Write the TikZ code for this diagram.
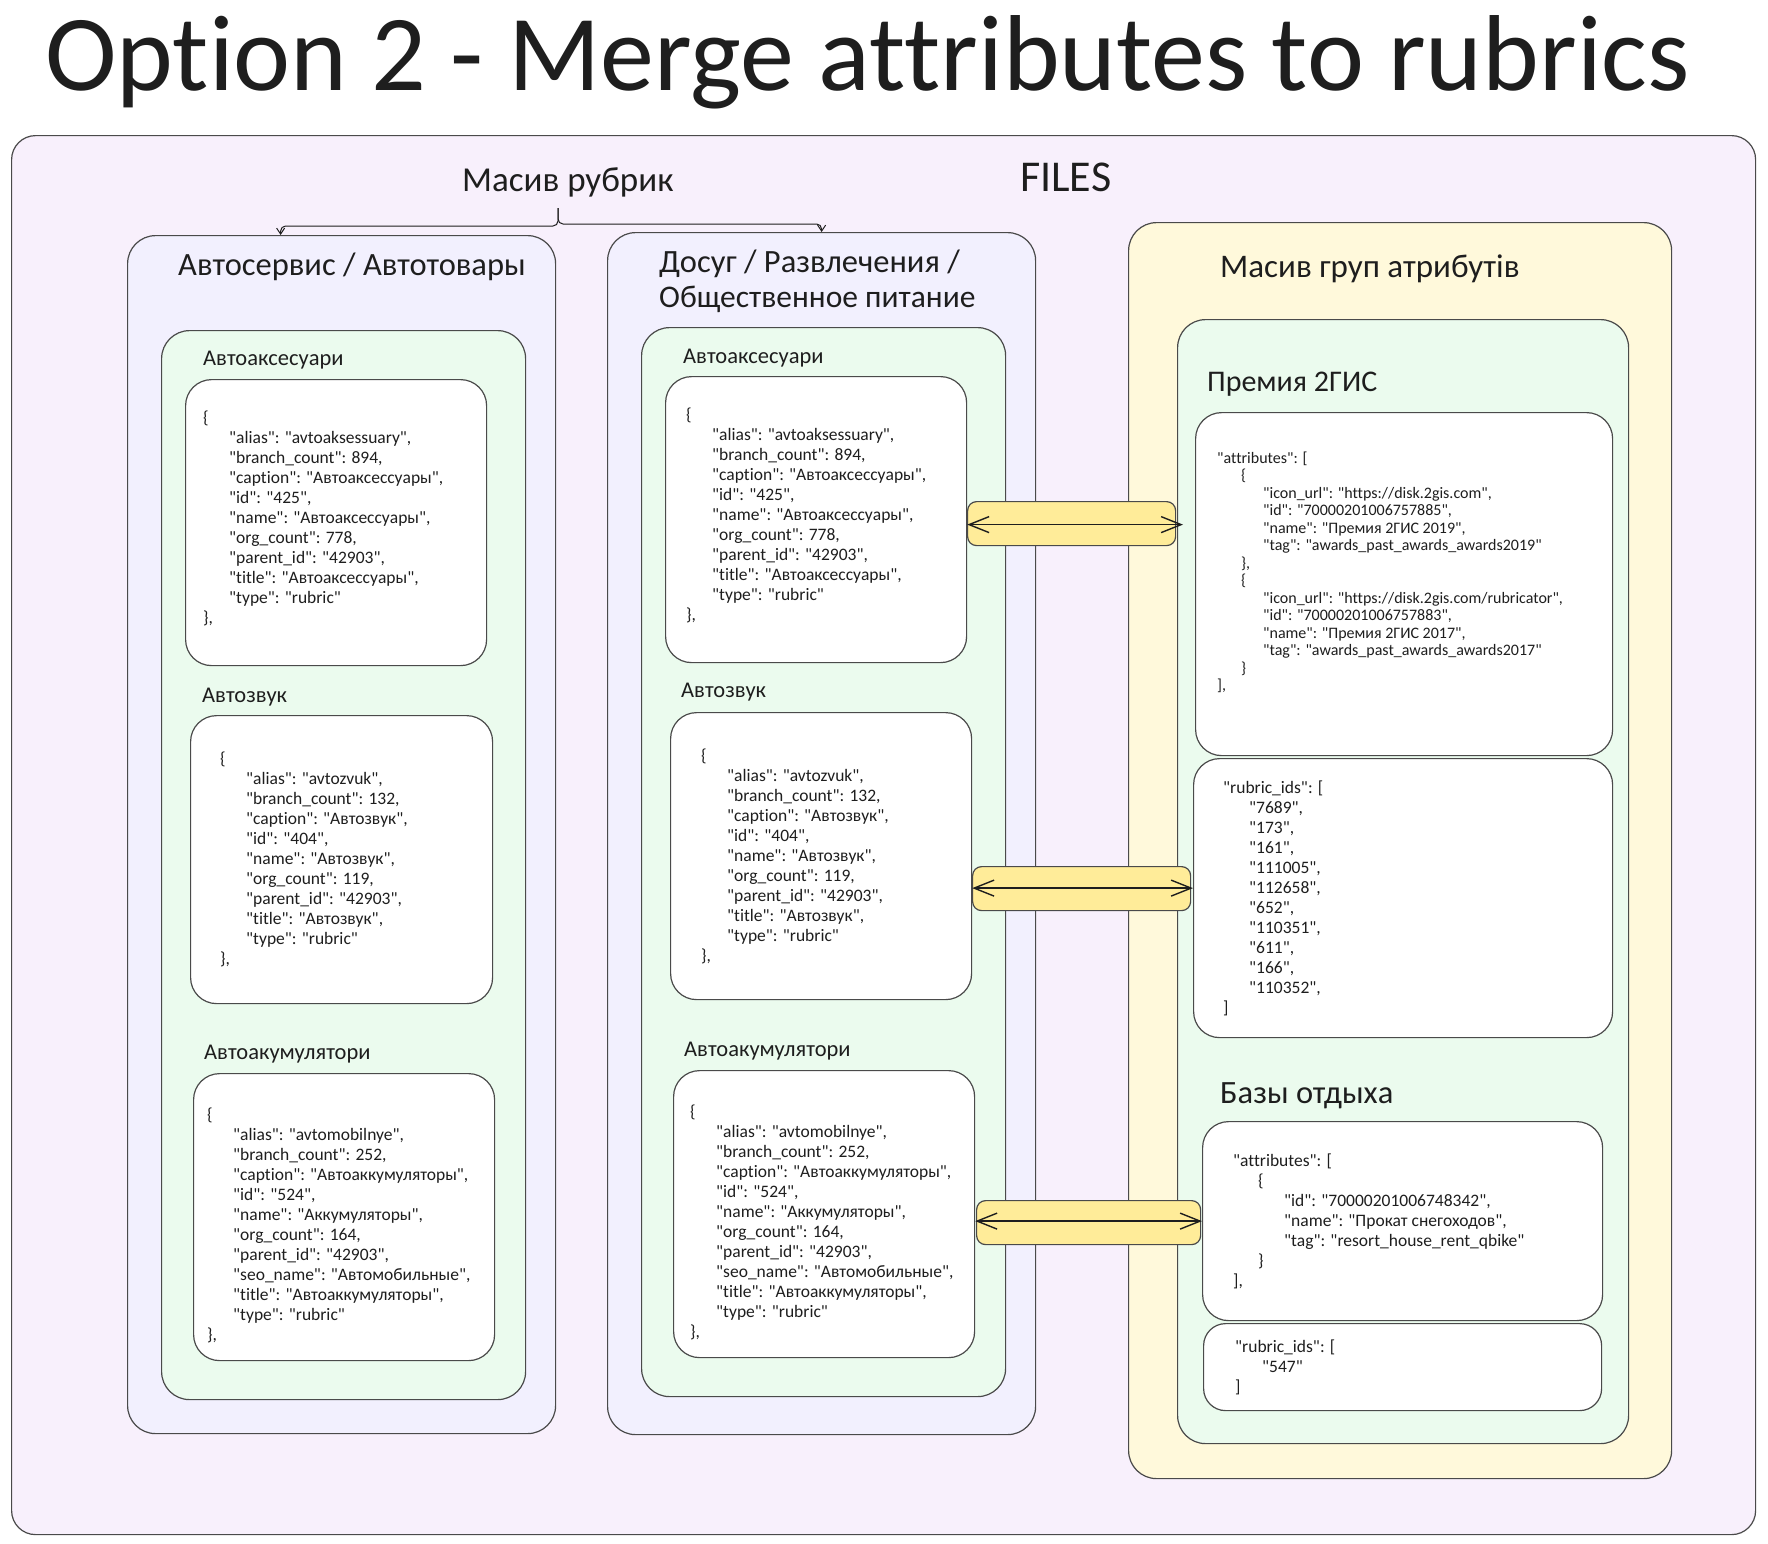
\documentclass[tikz,border=0pt]{standalone}
\usepackage{fontspec}
\setmainfont{Carlito}[Ligatures={TeXOff,CommonOff}]
\usetikzlibrary{arrows.meta}
\definecolor{cOuter}{HTML}{F8F0FC}
\definecolor{cCol}{HTML}{F2F0FE}
\definecolor{cGreen}{HTML}{EBFBEE}
\definecolor{cYel}{HTML}{FFF9DB}
\definecolor{cArr}{HTML}{FFEC99}
\definecolor{cLine}{HTML}{4A4A4A}
\definecolor{cInk}{HTML}{1E1E1E}
\newcommand{\jsi}{\hspace*{26pt}}
\begin{document}
\begin{tikzpicture}[x=1pt,y=-1pt,
  panel/.style={draw=cLine, line width=1.2pt, rounded corners=28pt, anchor=north west, inner sep=0pt},
  wbox/.style={panel, fill=white, rounded corners=26pt},
  abox/.style={draw=cLine, line width=1.2pt, rounded corners=9pt, anchor=north west, inner sep=0pt, fill=cArr},
  lbl/.style={anchor=base west, inner sep=0pt, text=cInk},
  jtext/.style={anchor=west, inner sep=0pt, align=left, text=cInk, font=\fontsize{17.5}{20}\selectfont},
  conn/.style={draw=cInk, line width=1pt, rounded corners=5pt, -{Straight Barb[length=6pt,width=8pt]}},
  dbl/.style={draw=cInk, line width=1.4pt, {Straight Barb[length=20pt,width=16pt]}-{Straight Barb[length=20pt,width=16pt]}}
]
\useasboundingbox (0,0) rectangle (1768,1543);
\fill[white] (0,0) rectangle (1768,1543);

% title
\node[lbl, font=\fontsize{108}{114}\selectfont] (title) at (45,90) {Option 2 - Merge attributes to rubrics};

% outer
\node[panel, fill=cOuter, minimum width=1744pt, minimum height=1399pt, rounded corners=24pt] (outer) at (11,135) {};
\node[lbl, font=\fontsize{35}{40}\selectfont] (mas) at (462,191) {Масив рубрик};
\node[lbl, font=\fontsize{44}{48}\selectfont] (files) at (1020,191) {FILES};

% columns
\node[panel, fill=cCol, minimum width=428pt, minimum height=1198pt] (LC) at (127,235) {};
\node[panel, fill=cCol, minimum width=428pt, minimum height=1202pt] (MC) at (607,232) {};
\node[panel, fill=cYel, minimum width=543pt, minimum height=1256pt] (RC) at (1128,222) {};

\node[lbl, font=\fontsize{32.5}{36}\selectfont] (LCt) at (178,275) {Автосервис / Автотовары};
\node[lbl, font=\fontsize{32.5}{36}\selectfont] (MCt1) at (659,272) {Досуг / Развлечения /};
\node[lbl, font=\fontsize{31.5}{36}\selectfont] (MCt2) at (659,307) {Общественное питание};
\node[lbl, font=\fontsize{33}{38}\selectfont] (RCt) at (1220,277) {Масив груп атрибутів};

% green boxes
\node[panel, fill=cGreen, minimum width=364pt, minimum height=1069pt] (LG) at (161,330) {};
\node[panel, fill=cGreen, minimum width=364pt, minimum height=1069pt] (MG) at (641,327) {};
\node[panel, fill=cGreen, minimum width=451pt, minimum height=1124pt] (RG) at (1177,319) {};

% sub headings
\node[lbl, font=\fontsize{22.5}{26}\selectfont] (L1h) at (203,365) {Автоаксесуари};
\node[lbl, font=\fontsize{22.5}{26}\selectfont] (L2h) at (202,702) {Автозвук};
\node[lbl, font=\fontsize{22.5}{26}\selectfont] (L3h) at (204,1059) {Автоакумулятори};
\node[lbl, font=\fontsize{22.5}{26}\selectfont] (M1h) at (683,363) {Автоаксесуари};
\node[lbl, font=\fontsize{22.5}{26}\selectfont] (M2h) at (681,697) {Автозвук};
\node[lbl, font=\fontsize{22.5}{26}\selectfont] (M3h) at (684,1056) {Автоакумулятори};
\node[lbl, font=\fontsize{30}{34}\selectfont] (R1h) at (1207,391) {Премия 2ГИС};
\node[lbl, font=\fontsize{32.5}{36}\selectfont] (R3h) at (1220,1103) {Базы отдыха};

% white boxes
\node[wbox, minimum width=301pt, minimum height=286pt] (W1) at (185,379) {};
\node[wbox, minimum width=302pt, minimum height=288pt] (W2) at (190,715) {};
\node[wbox, minimum width=301pt, minimum height=287pt] (W3) at (193,1073) {};
\node[wbox, minimum width=301pt, minimum height=286pt] (M1) at (665,376) {};
\node[wbox, minimum width=301pt, minimum height=287pt] (M2) at (670,712) {};
\node[wbox, minimum width=301pt, minimum height=287pt] (M3) at (673,1070) {};
\node[wbox, minimum width=417pt, minimum height=343pt] (R1) at (1195,412) {};
\node[wbox, minimum width=419pt, minimum height=279pt] (R2) at (1193,758) {};
\node[wbox, minimum width=400pt, minimum height=199pt] (R3) at (1202,1121) {};
\node[wbox, minimum width=398pt, minimum height=87pt, rounded corners=22pt] (R4) at (1203,1323) {};

% json texts
\node[jtext] (W1t) at ([xshift=18pt,yshift=4pt]W1.west) {\{\\
\jsi"alias": "avtoaksessuary",\\
\jsi"branch\_count": 894,\\
\jsi"caption": "Автоаксессуары",\\
\jsi"id": "425",\\
\jsi"name": "Автоаксессуары",\\
\jsi"org\_count": 778,\\
\jsi"parent\_id": "42903",\\
\jsi"title": "Автоаксессуары",\\
\jsi"type": "rubric"\\
\},};
\node[jtext] (M1t) at ([xshift=21pt,yshift=4pt]M1.west) {\{\\
\jsi"alias": "avtoaksessuary",\\
\jsi"branch\_count": 894,\\
\jsi"caption": "Автоаксессуары",\\
\jsi"id": "425",\\
\jsi"name": "Автоаксессуары",\\
\jsi"org\_count": 778,\\
\jsi"parent\_id": "42903",\\
\jsi"title": "Автоаксессуары",\\
\jsi"type": "rubric"\\
\},};
\node[jtext] (W2t) at ([xshift=30pt]W2.west) {\{\\
\jsi"alias": "avtozvuk",\\
\jsi"branch\_count": 132,\\
\jsi"caption": "Автозвук",\\
\jsi"id": "404",\\
\jsi"name": "Автозвук",\\
\jsi"org\_count": 119,\\
\jsi"parent\_id": "42903",\\
\jsi"title": "Автозвук",\\
\jsi"type": "rubric"\\
\},};
\node[jtext] (M2t) at ([xshift=31pt]M2.west) {\{\\
\jsi"alias": "avtozvuk",\\
\jsi"branch\_count": 132,\\
\jsi"caption": "Автозвук",\\
\jsi"id": "404",\\
\jsi"name": "Автозвук",\\
\jsi"org\_count": 119,\\
\jsi"parent\_id": "42903",\\
\jsi"title": "Автозвук",\\
\jsi"type": "rubric"\\
\},};
\node[jtext] (W3t) at ([xshift=14pt,yshift=-8pt]W3.west) {\{\\
\jsi"alias": "avtomobilnye",\\
\jsi"branch\_count": 252,\\
\jsi"caption": "Автоаккумуляторы",\\
\jsi"id": "524",\\
\jsi"name": "Аккумуляторы",\\
\jsi"org\_count": 164,\\
\jsi"parent\_id": "42903",\\
\jsi"seo\_name": "Автомобильные",\\
\jsi"title": "Автоаккумуляторы",\\
\jsi"type": "rubric"\\
\},};
\node[jtext] (M3t) at ([xshift=17pt,yshift=-8pt]M3.west) {\{\\
\jsi"alias": "avtomobilnye",\\
\jsi"branch\_count": 252,\\
\jsi"caption": "Автоаккумуляторы",\\
\jsi"id": "524",\\
\jsi"name": "Аккумуляторы",\\
\jsi"org\_count": 164,\\
\jsi"parent\_id": "42903",\\
\jsi"seo\_name": "Автомобильные",\\
\jsi"title": "Автоаккумуляторы",\\
\jsi"type": "rubric"\\
\},};
\node[jtext, font=\fontsize{16}{17.5}\selectfont] (R1t) at ([xshift=22pt,yshift=12pt]R1.west) {"attributes": [\\
\hspace*{24pt}\{\\
\hspace*{46pt}"icon\_url": "https://disk.2gis.com",\\
\hspace*{46pt}"id": "70000201006757885",\\
\hspace*{46pt}"name": "Премия 2ГИС 2019",\\
\hspace*{46pt}"tag": "awards\_past\_awards\_awards2019"\\
\hspace*{24pt}\},\\
\hspace*{24pt}\{\\
\hspace*{46pt}"icon\_url": "https://disk.2gis.com/rubricator",\\
\hspace*{46pt}"id": "70000201006757883",\\
\hspace*{46pt}"name": "Премия 2ГИС 2017",\\
\hspace*{46pt}"tag": "awards\_past\_awards\_awards2017"\\
\hspace*{24pt}\}\\
],};
\node[jtext] (R2t) at ([xshift=30pt]R2.west) {"rubric\_ids": [\\
\jsi"7689",\\
\jsi"173",\\
\jsi"161",\\
\jsi"111005",\\
\jsi"112658",\\
\jsi"652",\\
\jsi"110351",\\
\jsi"611",\\
\jsi"166",\\
\jsi"110352",\\
]};
\node[jtext] (R3t) at ([xshift=31pt]R3.west) {"attributes": [\\
\hspace*{25pt}\{\\
\hspace*{51pt}"id": "70000201006748342",\\
\hspace*{51pt}"name": "Прокат снегоходов",\\
\hspace*{51pt}"tag": "resort\_house\_rent\_qbike"\\
\hspace*{25pt}\}\\
],};
\node[jtext] (R4t) at ([xshift=32pt]R4.west) {"rubric\_ids": [\\
\hspace*{27pt}"547"\\
]};

% bracket connector
\coordinate (brk) at (558,208);
\draw[conn] (brk) -- ++(0,18) -| ([xshift=-61pt]LC.north);
\draw[conn] (brk) -- ++(0,16) -| (MC.north);

% link boxes and arrows
\node[abox, minimum width=208pt, minimum height=44pt] (A1) at (967,501) {};
\node[abox, minimum width=218pt, minimum height=44pt] (A2) at (972,866) {};
\node[abox, minimum width=224pt, minimum height=44pt] (A3) at (976,1200) {};
\draw[dbl, shorten >=12pt] ([yshift=-5pt]M1.east) -- ([yshift=-5pt]M1.east -| R1.west);
\draw[dbl] ([yshift=10pt]R2.west -| M2.east) -- ([yshift=10pt]R2.west);
\draw[dbl] (R3.west -| M3.east) -- (R3.west);
\end{tikzpicture}
\end{document}
